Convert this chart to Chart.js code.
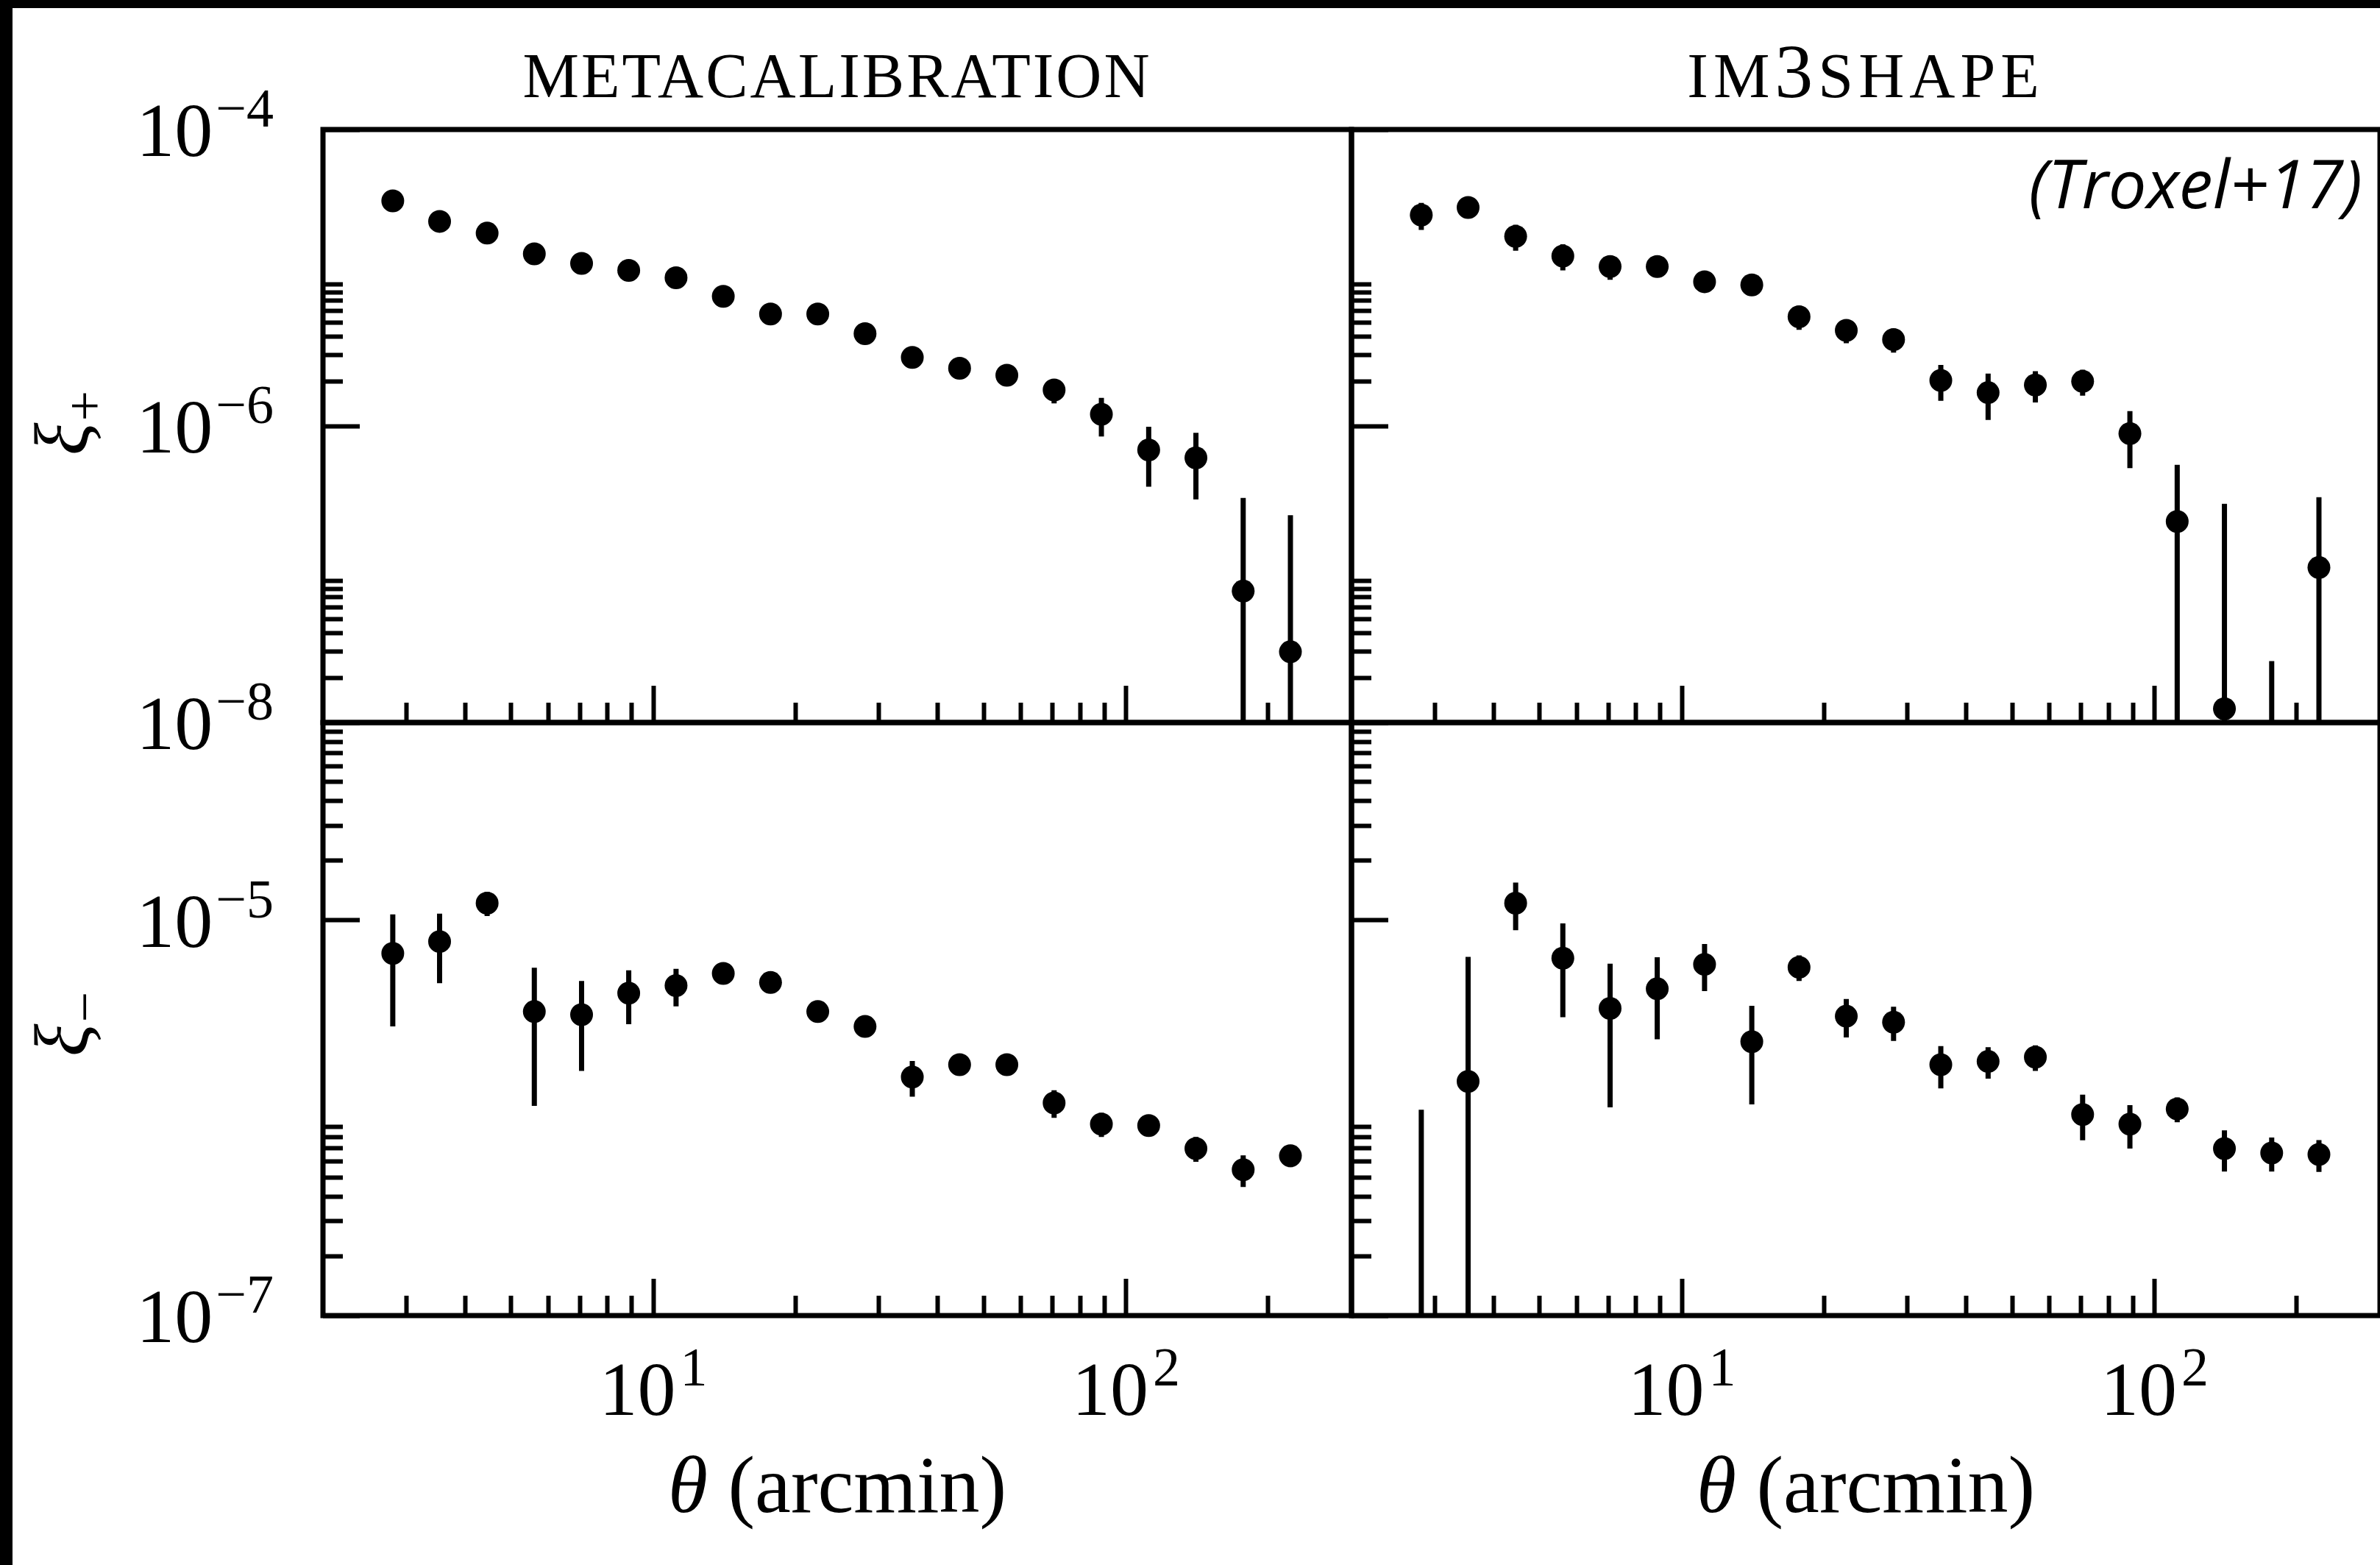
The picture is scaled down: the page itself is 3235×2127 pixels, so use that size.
<!DOCTYPE html>
<html>
<head>
<meta charset="utf-8">
<script src="https://cdn.jsdelivr.net/npm/chart.js@4.4.1/dist/chart.umd.min.js"></script>
<style>
  html, body { margin: 0; padding: 0; background: #fff; }
  #page { position: relative; width: 3235px; height: 2127px; overflow: hidden; background: #fff; }
  #page canvas { position: absolute; left: 0; top: 0; }
  .edge { position: absolute; left: 0; top: 0; background: #000; }
</style>
</head>
<body>
<div id="page">
  <canvas id="tl" width="3235" height="2127"></canvas>
  <canvas id="tr" width="3235" height="2127"></canvas>
  <canvas id="bl" width="3235" height="2127"></canvas>
  <canvas id="br" width="3235" height="2127"></canvas>
  <div class="edge" style="width:17px;height:2127px"></div>
  <div class="edge" style="width:3235px;height:11px"></div>
</div>
<script>
// angular bins in arcmin, same for every panel
const theta = [2.81, 3.53, 4.45, 5.60, 7.05, 8.87, 11.17, 14.06, 17.70, 22.28,
               28.05, 35.31, 44.46, 55.97, 70.46, 88.71, 111.7, 140.6, 177.0, 222.8];

// metacalibration
const xipMcal = [3.3e-5, 2.4e-5, 2.0e-5, 1.45e-5, 1.25e-5, 1.12e-5, 1.0e-5, 7.5e-6, 5.7e-6, 5.7e-6,
                 4.2e-6, 2.9e-6, 2.45e-6, 2.2e-6, 1.75e-6, 1.2e-6, 6.9e-7, 6.1e-7, 7.7e-8, 3.0e-8];
const xipMcalErr = [1.2e-6, 0.9e-6, 0.8e-6, 0.6e-6, 0.5e-6, 0.45e-6, 0.4e-6, 0.35e-6, 0.3e-6, 0.28e-6,
                    0.25e-6, 0.3e-6, 0.25e-6, 0.25e-6, 0.33e-6, 0.35e-6, 0.3e-6, 0.29e-6, 0.25e-6, 0.22e-6];
const ximMcal = [6.8e-6, 7.8e-6, 1.22e-5, 3.45e-6, 3.33e-6, 4.28e-6, 4.67e-6, 5.38e-6, 4.84e-6, 3.45e-6,
                 2.9e-6, 1.61e-6, 1.86e-6, 1.86e-6, 1.19e-6, 9.3e-7, 9.15e-7, 7.0e-7, 5.47e-7, 6.43e-7];
const ximMcalErr = [3.9e-6, 3.0e-6, 1.7e-6, 2.3e-6, 1.6e-6, 1.3e-6, 1.0e-6, 0.5e-6, 0.4e-6, 0.35e-6,
                    0.3e-6, 0.33e-6, 0.2e-6, 0.15e-6, 0.19e-6, 0.13e-6, 0.1e-6, 0.1e-6, 0.1e-6, 0.08e-6];

// im3shape
const xipIm3 = [2.65e-5, 2.98e-5, 1.9e-5, 1.4e-5, 1.19e-5, 1.19e-5, 9.4e-6, 8.95e-6, 5.46e-6, 4.42e-6,
                3.83e-6, 2.03e-6, 1.68e-6, 1.89e-6, 2.0e-6, 8.9e-7, 2.27e-7, 1.24e-8, -1.5e-8, 1.11e-7];
const xipIm3Err = [5.5e-6, 3.0e-6, 3.8e-6, 2.8e-6, 2.2e-6, 1.5e-6, 1.3e-6, 0.8e-6, 1.0e-6, 0.8e-6,
                   0.7e-6, 0.55e-6, 0.58e-6, 0.45e-6, 0.4e-6, 0.37e-6, 0.32e-6, 2.86e-7, 4.1e-8, 2.2e-7];
const ximIm3 = [-4e-7, 1.53e-6, 1.22e-5, 6.43e-6, 3.58e-6, 4.5e-6, 5.98e-6, 2.43e-6, 5.78e-6, 3.27e-6,
                3.05e-6, 1.86e-6, 1.93e-6, 2.03e-6, 1.04e-6, 9.3e-7, 1.11e-6, 7.0e-7, 6.65e-7, 6.53e-7];
const ximIm3Err = [1.5e-6, 5.0e-6, 3.3e-6, 3.2e-6, 2.45e-6, 2.0e-6, 1.6e-6, 1.26e-6, 0.85e-6, 0.72e-6,
                   0.6e-6, 0.45e-6, 0.35e-6, 0.3e-6, 0.27e-6, 0.23e-6, 0.16e-6, 0.165e-6, 0.13e-6, 0.12e-6];

// axes
const xRange = [2, 300];
const yRangePlus = [1e-8, 1e-4];
const yRangeMinus = [1e-7, 1e-4];
const xMajor = [10, 100];
const xMinor = [3, 4, 5, 6, 7, 8, 9, 20, 30, 40, 50, 60, 70, 80, 90, 200];
const yMajorPlus = [1e-8, 1e-6, 1e-4];
const yMinorPlus = [2e-8, 3e-8, 4e-8, 5e-8, 6e-8, 7e-8, 8e-8, 9e-8,
                    2e-6, 3e-6, 4e-6, 5e-6, 6e-6, 7e-6, 8e-6, 9e-6];
const yMajorMinus = [1e-7, 1e-5];
const yMinorMinus = [2e-7, 3e-7, 4e-7, 5e-7, 6e-7, 7e-7, 8e-7, 9e-7,
                     2e-5, 3e-5, 4e-5, 5e-5, 6e-5, 7e-5, 8e-5, 9e-5];

// texts
const titleMcal = [['METACALIBRATION', 'sc']];
const titleIm3 = [['IM', 'sc'], ['3', 'tick'], ['SHAPE', 'sc']];
const xTitle = [['θ', 'it'], [' (arcmin)', 'lab']];
const noteText = '(Troxel+17)';

const W = 3235, H = 2127;
const SERIF = '"Liberation Serif", "DejaVu Serif", serif';
const FONT = {
  tick: '104px ' + SERIF,
  sup: '74px ' + SERIF,
  sc: '86px ' + SERIF,
  it: 'italic 110px ' + SERIF,
  lab: '110px ' + SERIF,
  xi: 'italic 104px ' + SERIF,
  note: 'italic 92px "Open Sans", "DejaVu Sans", sans-serif'
};

function drawRuns(ctx, runs, cx, y, spacing) {
  ctx.letterSpacing = spacing + 'px';
  const widths = runs.map(([t, f]) => { ctx.font = FONT[f]; return ctx.measureText(t).width; });
  let x = cx - widths.reduce((a, b) => a + b, 0) / 2;
  runs.forEach(([t, f], i) => {
    ctx.font = FONT[f];
    ctx.fillText(t, x, y);
    x += widths[i];
  });
  ctx.letterSpacing = '0px';
}

function drawPower(ctx, v, x, y, align, gap) {
  const e = Math.round(Math.log10(v));
  const sup = e < 0 ? '\u2212' + (-e) : String(e);
  ctx.font = FONT.tick;
  const wb = ctx.measureText('10').width;
  ctx.font = FONT.sup;
  const ws = ctx.measureText(sup).width;
  const total = wb + gap + ws;
  const left = align === 'right' ? x - total : x - total / 2;
  ctx.font = FONT.tick;
  ctx.fillText('10', left, y);
  ctx.font = FONT.sup;
  ctx.fillText(sup, left + wb + gap, y - 40);
}

const frame = {
  id: 'frame',
  afterDatasetsDraw(chart) {
    const { ctx, chartArea: a } = chart;
    ctx.save();
    ctx.lineWidth = 7;
    ctx.strokeStyle = '#000';
    ctx.strokeRect(a.left, a.top, a.right - a.left, a.bottom - a.top);
    ctx.restore();
  }
};

const tickLabels = {
  id: 'tickLabels',
  afterDraw(chart, args, opts) {
    const { ctx, chartArea: a } = chart;
    ctx.save();
    ctx.fillStyle = '#000';
    ctx.textAlign = 'left';
    ctx.textBaseline = 'alphabetic';
    if (opts.y) {
      const s = chart.scales.y;
      s.ticks.forEach(t => drawPower(ctx, t.value, a.left - 67, s.getPixelForValue(t.value) + 36, 'right', 4));
    }
    if (opts.x) {
      const s = chart.scales.x;
      s.ticks.forEach(t => drawPower(ctx, t.value, s.getPixelForValue(t.value), a.bottom + 135, 'center', 6));
    }
    ctx.restore();
  }
};

const decor = {
  id: 'decor',
  afterDraw(chart, args, opts) {
    const { ctx, chartArea: a } = chart;
    const cx = (a.left + a.right) / 2;
    ctx.save();
    ctx.fillStyle = '#000';
    ctx.textAlign = 'left';
    ctx.textBaseline = 'alphabetic';
    if (opts.title) drawRuns(ctx, opts.title, cx, a.top - 44, opts.spacing || 0);
    if (opts.xTitle) drawRuns(ctx, opts.xTitle, cx, a.bottom + 267, 0);
    if (opts.note) {
      ctx.font = FONT.note;
      ctx.textAlign = 'right';
      ctx.fillText(opts.note, a.right - 24, a.top + 107);
      ctx.textAlign = 'left';
    }
    if (opts.ySub) {
      ctx.translate(119, opts.yStart);
      ctx.rotate(-Math.PI / 2);
      ctx.font = FONT.xi;
      ctx.fillText('ξ', 0, 0);
      const w = ctx.measureText('ξ').width;
      ctx.font = FONT.sup;
      ctx.textBaseline = 'middle';
      ctx.fillText(opts.ySub, w + 2, 2);
    }
    ctx.restore();
  }
};

function tickAxis(axis, list, len, range) {
  return {
    type: 'logarithmic',
    position: axis === 'x' ? 'bottom' : 'left',
    min: range[0],
    max: range[1],
    offset: false,
    afterBuildTicks: s => { s.ticks = list.map(v => ({ value: v })); },
    afterFit: s => { if (axis === 'x') s.height = 0; else s.width = 0; },
    ticks: { display: false, autoSkip: false },
    border: { display: false },
    grid: { display: true, drawOnChartArea: false, drawTicks: true, tickLength: -len,
            tickWidth: 6, tickColor: '#000', color: '#000' }
  };
}

function panel(id, box, values, errs, yRange, yMajor, yMinor, extra) {
  const pts = theta.map((t, i) => ({ x: t, y: values[i] }));
  const bars = [];
  theta.forEach((t, i) => {
    bars.push({ x: t, y: Math.max(values[i] - errs[i], 1e-12) });
    bars.push({ x: t, y: values[i] + errs[i] });
    bars.push({ x: t, y: null });
  });
  return new Chart(document.getElementById(id), {
    type: 'scatter',
    data: {
      datasets: [
        { data: pts, order: 0, pointRadius: 15.5, pointHoverRadius: 15.5, borderWidth: 0,
          backgroundColor: '#000', borderColor: '#000' },
        { type: 'line', data: bars, order: 1, showLine: true, spanGaps: false, fill: false,
          borderColor: '#000', borderWidth: 7, pointRadius: 0, borderCapStyle: 'butt' }
      ]
    },
    options: {
      responsive: false,
      animation: false,
      events: [],
      layout: { autoPadding: false,
                padding: { left: box[0], top: box[1], right: W - box[2], bottom: H - box[3] } },
      plugins: {
        legend: { display: false },
        tooltip: { enabled: false },
        tickLabels: { x: extra.xLabels, y: extra.yLabels },
        decor: extra.decor
      },
      scales: {
        x: tickAxis('x', xMajor, 50, xRange),
        x2: tickAxis('x', xMinor, 27, xRange),
        y: tickAxis('y', yMajor, 50, yRange),
        y2: tickAxis('y', yMinor, 27, yRange)
      }
    },
    plugins: [frame, tickLabels, decor]
  });
}

panel('tl', [439, 176, 1837, 982], xipMcal, xipMcalErr, yRangePlus, yMajorPlus, yMinorPlus,
      { xLabels: false, yLabels: true, decor: { title: titleMcal, spacing: 3, ySub: '+', yStart: 619 } });
panel('tr', [1837, 176, 3235, 982], xipIm3, xipIm3Err, yRangePlus, yMajorPlus, yMinorPlus,
      { xLabels: false, yLabels: false, decor: { title: titleIm3, spacing: 7, note: noteText } });
panel('bl', [439, 982, 1837, 1788], ximMcal, ximMcalErr, yRangeMinus, yMajorMinus, yMinorMinus,
      { xLabels: true, yLabels: true, decor: { xTitle: xTitle, ySub: '\u2212', yStart: 1436 } });
panel('br', [1837, 982, 3235, 1788], ximIm3, ximIm3Err, yRangeMinus, yMajorMinus, yMinorMinus,
      { xLabels: true, yLabels: false, decor: { xTitle: xTitle } });
</script>
</body>
</html>
